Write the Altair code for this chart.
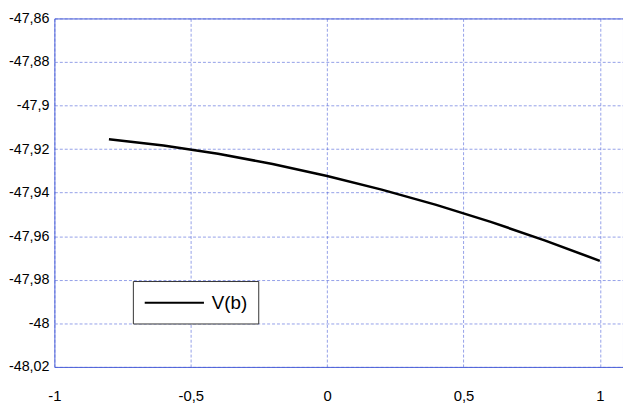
import altair as alt
import pandas as pd

# Data
x_vals = [-0.8, -0.6, -0.4, -0.2, 0.0, 0.2, 0.4, 0.6, 0.8, 1.0]
v_vals = [-47.9155, -47.9183, -47.9221, -47.9268, -47.9323,
          -47.9386, -47.9456, -47.9534, -47.9620, -47.9713]
series = ["V(b)"] * len(x_vals)

x_ticks = [-1, -0.5, 0, 0.5, 1]
y_ticks = [-48.02, -48.0, -47.98, -47.96, -47.94, -47.92, -47.9, -47.88, -47.86]

df = pd.DataFrame({"x": x_vals, "v": v_vals, "s": series})

blue = "#4a5fd8"
font = "Liberation Sans"
label_expr = "replace(toString(datum.value), '.', ',')"

chart = alt.Chart(df).mark_line(strokeWidth=2.6).encode(
    x=alt.X("x:Q",
            scale=alt.Scale(domain=[-1, 1.085], nice=False, zero=False),
            axis=alt.Axis(values=x_ticks, title=None, labelExpr=label_expr,
                          grid=True, ticks=False, domain=False,
                          labelPadding=22, labelFontSize=15, labelColor="black",
                          labelFont=font, labelFlush=False,
                          gridColor=blue, gridDash=[3, 2], gridOpacity=0.6)),
    y=alt.Y("v:Q",
            scale=alt.Scale(domain=[-48.02, -47.86], nice=False, zero=False),
            axis=alt.Axis(values=y_ticks, title=None, labelExpr=label_expr,
                          grid=True, ticks=False, domain=False,
                          labelPadding=5.5, labelFontSize=14.5, labelColor="black",
                          labelFont=font, labelFlush=False,
                          gridColor=blue, gridDash=[3, 2], gridOpacity=0.6)),
    color=alt.Color("s:N", scale=alt.Scale(range=["black"]),
                    legend=alt.Legend(title=None, orient="none",
                                      legendX=79.5, legendY=266,
                                      symbolType="M-1,0H5", symbolSize=400,
                                      symbolStrokeWidth=2, symbolStrokeColor="black",
                                      labelFontSize=19, labelFont=font,
                                      labelColor="black", labelOffset=47,
                                      strokeColor="#333333", fillColor="white",
                                      padding=11, cornerRadius=0)),
).properties(
    width=576, height=353,
    autosize=alt.AutoSizeParams(type="none"),
    padding={"left": 47, "top": 8, "right": 0, "bottom": 36},
).configure_view(stroke=blue, strokeWidth=1)

chart.save("out.html", embed_options={"renderer": "svg", "actions": False})
